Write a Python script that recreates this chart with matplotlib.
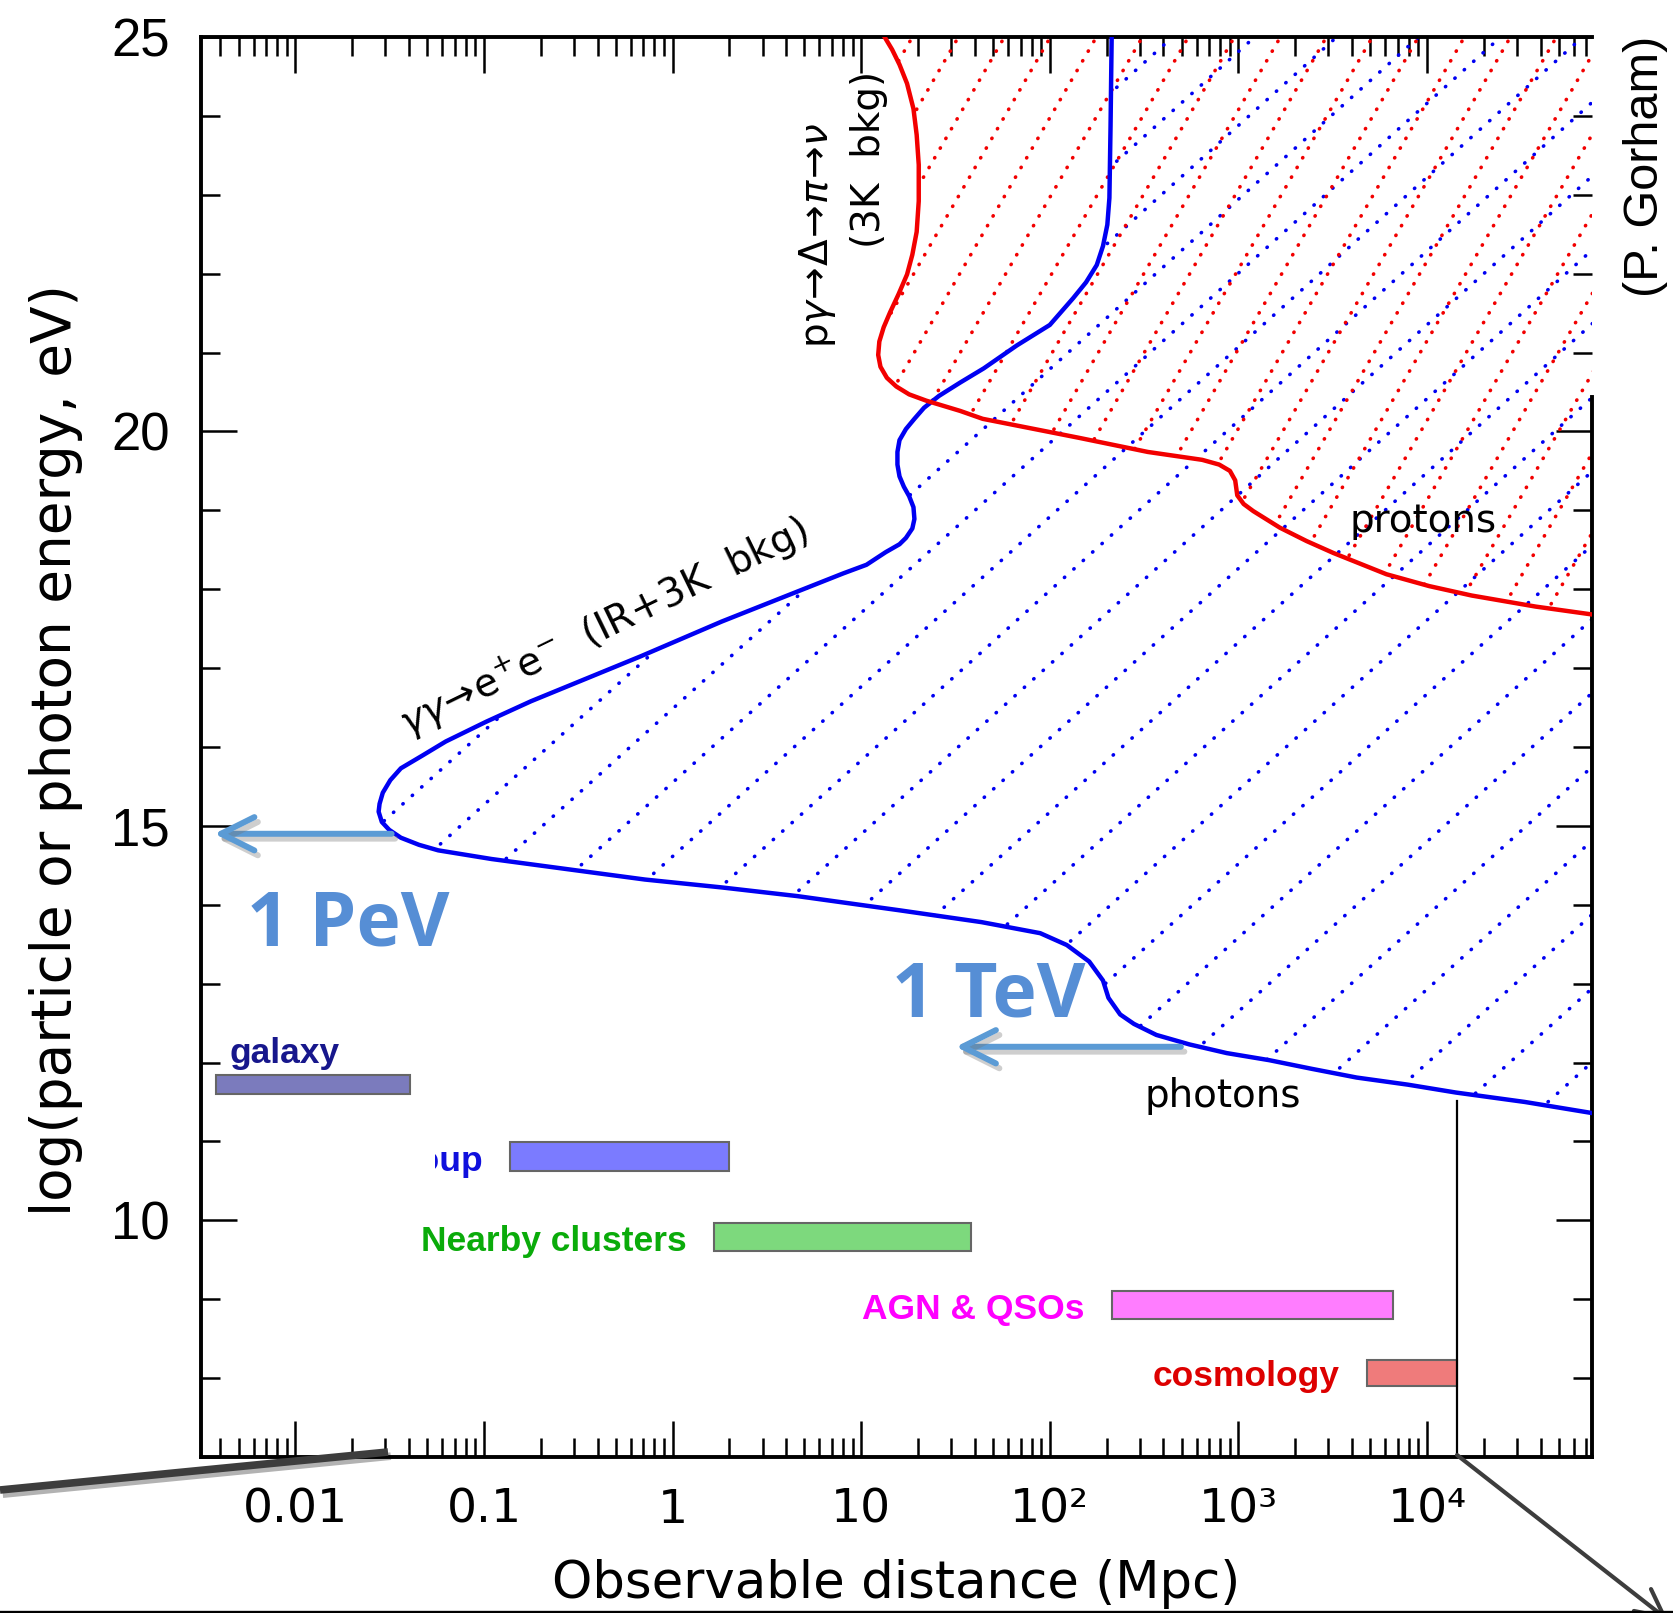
import numpy as np
import matplotlib
matplotlib.use("Agg")
import matplotlib.pyplot as plt
import matplotlib.patheffects as pe
from matplotlib.collections import LineCollection
from matplotlib.lines import Line2D
from matplotlib.patches import Polygon, FancyArrowPatch
from matplotlib.transforms import Bbox, TransformedBbox
from matplotlib.ticker import (FixedLocator, FixedFormatter, LogLocator,
                               NullFormatter, MultipleLocator)

plt.rcParams["font.family"] = ["DejaVu Sans"]
plt.rcParams["mathtext.fontset"] = "dejavusans"

# ---------------------------------------------------------------------------
# Energy-loss horizons: log10(E / eV) against log10(distance / Mpc)
# ---------------------------------------------------------------------------
photon_log_energy = [25.0, 23.86, 22.96, 22.62, 22.35, 22.11, 21.89, 21.69,
                     21.35, 21.09, 20.80, 20.62, 20.45, 20.30, 20.16, 20.03,
                     19.89, 19.74, 19.58, 19.43, 19.30, 19.18, 19.04, 18.89,
                     18.77, 18.65, 18.57, 18.47, 18.31, 18.20, 17.97, 17.59,
                     17.15, 16.58, 16.32, 16.07, 15.89, 15.73, 15.58, 15.42,
                     15.28, 15.18, 15.05, 14.95, 14.85, 14.76, 14.69, 14.58,
                     14.45, 14.32, 14.22, 14.11, 13.93, 13.78, 13.64, 13.49,
                     13.28, 13.04, 12.82, 12.61, 12.49, 12.35, 12.23, 12.12,
                     12.03, 11.92, 11.81, 11.72, 11.62, 11.50, 11.36]
photon_log_dist = [2.328, 2.322, 2.316, 2.305, 2.282, 2.249, 2.192, 2.124,
                   2.000, 1.825, 1.650, 1.525, 1.412, 1.333, 1.282, 1.237,
                   1.203, 1.192, 1.192, 1.203, 1.226, 1.254, 1.277, 1.282,
                   1.271, 1.237, 1.203, 1.130, 1.028, 0.904, 0.661, 0.260,
                   -0.169, -0.751, -0.989, -1.203, -1.328, -1.441, -1.497,
                   -1.537, -1.554, -1.559, -1.542, -1.503, -1.441, -1.345,
                   -1.243, -0.960, -0.554, -0.147, 0.260, 0.661, 1.203, 1.638,
                   1.949, 2.090, 2.209, 2.282, 2.311, 2.373, 2.446, 2.565,
                   2.740, 2.938, 3.164, 3.390, 3.627, 3.898, 4.153, 4.520,
                   4.875]

proton_log_energy = [25.0, 24.84, 24.65, 24.41, 24.09, 23.76, 23.38, 22.92,
                     22.53, 22.24, 21.99, 21.74, 21.51, 21.32, 21.14, 20.97,
                     20.82, 20.68, 20.57, 20.47, 20.39, 20.26, 20.16, 19.92,
                     19.74, 19.64, 19.58, 19.50, 19.38, 19.19, 19.08, 18.99,
                     18.78, 18.61, 18.46, 18.19, 18.04, 17.92, 17.78, 17.68]
proton_log_dist = [1.124, 1.164, 1.203, 1.243, 1.277, 1.294, 1.305, 1.305,
                   1.294, 1.271, 1.243, 1.198, 1.153, 1.119, 1.096, 1.090,
                   1.102, 1.136, 1.186, 1.254, 1.345, 1.525, 1.644, 2.153,
                   2.520, 2.808, 2.898, 2.955, 2.983, 2.994, 3.028, 3.079,
                   3.220, 3.362, 3.503, 3.785, 4.011, 4.237, 4.576, 4.875]

# ---------------------------------------------------------------------------
# Source classes and the distance ranges (Mpc) they occupy
# ---------------------------------------------------------------------------
source_names = ["galaxy", "Local Group", "Nearby clusters", "AGN & QSOs",
                "cosmology"]
source_dist_lo = [0.0038, 0.137, 1.65, 214.0, 4790.0]
source_dist_hi = [0.0404, 1.99, 38.2, 6600.0, 14350.0]
source_energy_lo = [11.60, 10.62, 9.61, 8.75, 7.90]
source_energy_hi = [11.84, 10.99, 9.96, 9.10, 8.23]

horizon_mpc = 14350.0
horizon_top_energy = 11.51

# Reference energies marked with arrows (log10 eV, distances in Mpc)
pev_energy, pev_from, pev_to = 14.9, 10 ** -1.49, 10 ** -2.43
tev_energy, tev_from, tev_to = 12.2, 10 ** 2.695, 10 ** 1.502

x_ticks = [0.01, 0.1, 1, 10, 100, 1000, 10000]
x_tick_labels = ["0.01", "0.1", "1", "10", "10²", "10³", "10⁴"]
y_major_ticks = [10, 15, 20, 25]

# ---------------------------------------------------------------------------
# Styles
# ---------------------------------------------------------------------------
BLUE = "#0000f2"
RED = "#f20000"
ARROW_BLUE = "#5b9bd5"
NOTE_BLUE = "#568ed5"
bar_faces = ["#7b7bbd", "#7b7bff", "#7dd97d", "#ff7dff", "#ef7b7b"]
label_colors = ["#17178c", "#1010dd", "#0aab0a", "#ff00ff", "#dd0000"]

W_PX, H_PX, DPI = 1673, 1613, 100
fig = plt.figure(figsize=(W_PX / DPI, H_PX / DPI), dpi=DPI)
ax_left, ax_right, ax_top, ax_bottom = 200.6, 1592.0, 37.0, 1457.0
ax = fig.add_axes([ax_left / W_PX, 1 - ax_bottom / H_PX,
                   (ax_right - ax_left) / W_PX, (ax_bottom - ax_top) / H_PX])
ax.set_xscale("log")
ax.set_xlim(10 ** -2.503, 10 ** 4.875)
ax.set_ylim(7, 25)

ax_w_px = ax_right - ax_left
ax_h_px = ax_bottom - ax_top

photon_dist = 10 ** np.array(photon_log_dist)
proton_dist = 10 ** np.array(proton_log_dist)


def region_patch(dist, energy):
    far = ax.get_xlim()[1] * 5
    xs = np.r_[dist, far, far, dist[0]]
    ys = np.r_[energy, energy[-1], 27.0, 27.0]
    patch = Polygon(np.column_stack([xs, ys]), closed=True,
                    transform=ax.transData, facecolor="none",
                    edgecolor="none", lw=0)
    ax.add_patch(patch)
    return patch


def hatch_segments(angle_deg, spacing_px, phase_px):
    run = ax_h_px / np.tan(np.radians(angle_deg))
    kmin = int(np.floor((-run - phase_px) / spacing_px)) - 1
    kmax = int(np.ceil((ax_w_px - phase_px) / spacing_px)) + 1
    starts = phase_px + spacing_px * np.arange(kmin, kmax + 1)
    return [[(x0 / ax_w_px, 0.0), ((x0 + run) / ax_w_px, 1.0)]
            for x0 in starts]


def add_hatch(region, angle_deg, spacing_px, phase_px, color, gap):
    lc = LineCollection(hatch_segments(angle_deg, spacing_px, phase_px),
                        transform=ax.transAxes, colors=color, linewidths=2.6,
                        linestyles=[(0, (0.1, gap))], capstyle="round",
                        zorder=2)
    lc.set_clip_path(region)
    lc.set_clip_box(ax.bbox)
    ax.add_collection(lc, autolim=False)


# dotted hatching of the regions beyond each horizon
blue_region = region_patch(photon_dist, photon_log_energy)
red_region = region_patch(proton_dist, proton_log_energy)
add_hatch(blue_region, 42, 82, 51, BLUE, 3.4)
add_hatch(red_region, 60, 46, 30, RED, 3.0)

# horizon curves
ax.plot(photon_dist, photon_log_energy, color=BLUE, lw=3.2,
        solid_joinstyle="round", zorder=4)
ax.plot(proton_dist, proton_log_energy, color=RED, lw=3.2,
        solid_joinstyle="round", zorder=4)

# source-class bars and their labels
widths = np.array(source_dist_hi) - np.array(source_dist_lo)
heights = np.array(source_energy_hi) - np.array(source_energy_lo)
centers = (np.array(source_energy_hi) + np.array(source_energy_lo)) / 2
ax.barh(centers, widths, height=heights, left=source_dist_lo,
        color=bar_faces, edgecolor="#666666", linewidth=1.5, zorder=3)

label_font = dict(family=["Liberation Sans", "DejaVu Sans"],
                  fontweight="bold", fontsize=25.5)
for i, name in enumerate(source_names):
    if i == 0:
        ax.text(source_dist_lo[i] * 1.17, source_energy_hi[i] + 0.15, name,
                ha="left", va="baseline", color=label_colors[i], zorder=5,
                **label_font)
        continue
    t = ax.text(source_dist_lo[i] / 10 ** 0.145, source_energy_lo[i], name,
                ha="right", va="baseline", color=label_colors[i], zorder=5,
                **label_font)
    if name == "Local Group":
        t.set_clip_box(TransformedBbox(Bbox([[0.055, 7.0], [1e6, 25.0]]),
                                       ax.transData))
        t.set_clip_on(True)

# horizon of the observable universe
ax.plot([horizon_mpc, horizon_mpc], [7, horizon_top_energy],
        color="black", lw=1.6, zorder=3)

# process annotations
note_font = dict(fontsize=28, color="black", zorder=6)
ax.text(10 ** -1.404, 16.13,
        r"$\gamma\gamma\!\rightarrow\!\mathrm{e}^{+}\mathrm{e}^{-}$"
        "  (IR+3K  bkg)",
        rotation=26, rotation_mode="anchor", ha="left", va="baseline",
        **note_font)
ax.text(10 ** 0.823, 21.06,
        r"p$\gamma\!\rightarrow\!\Delta\!\rightarrow\!\pi\!\rightarrow\!\nu$",
        rotation=90, rotation_mode="anchor", ha="left", va="baseline",
        **note_font)
ax.text(10 ** 1.099, 22.32, "(3K  bkg)", rotation=90, rotation_mode="anchor",
        ha="left", va="baseline", **note_font)
ax.text(10 ** 3.591, 18.72, "protons", ha="left", va="baseline", **note_font)
ax.text(10 ** 2.504, 11.44, "photons", ha="left", va="baseline", **note_font)

# 1 PeV / 1 TeV markers
shadow = [pe.SimpleLineShadow(offset=(2.5, -3.5), shadow_color="0.45",
                              alpha=0.35), pe.Normal()]
arrow_kw = dict(arrowstyle="->,head_length=1.2,head_width=0.6",
                color=ARROW_BLUE, lw=4.3, mutation_scale=20,
                capstyle="round", joinstyle="round",
                shrinkA=0, shrinkB=0, path_effects=shadow)
ax.annotate("", xy=(pev_to, pev_energy), xytext=(pev_from, pev_energy),
            arrowprops=arrow_kw, zorder=7)
ax.annotate("", xy=(tev_to, tev_energy), xytext=(tev_from, tev_energy),
            arrowprops=arrow_kw, zorder=7)
big_font = dict(family=["Open Sans", "DejaVu Sans"], fontweight="bold",
                fontsize=54, color=NOTE_BLUE, ha="left", va="baseline",
                zorder=7)
ax.text(10 ** -2.258, 13.48, "1 PeV", **big_font)
ax.text(10 ** 1.162, 12.58, "1 TeV", **big_font)

# axes, ticks and frame
ax.xaxis.set_major_locator(FixedLocator(x_ticks))
ax.xaxis.set_major_formatter(FixedFormatter(x_tick_labels))
ax.xaxis.set_minor_locator(LogLocator(base=10, subs=np.arange(2, 10),
                                      numticks=100))
ax.xaxis.set_minor_formatter(NullFormatter())
ax.yaxis.set_major_locator(FixedLocator(y_major_ticks))
ax.yaxis.set_minor_locator(MultipleLocator(1))
ax.tick_params(which="both", direction="in", top=True, right=True,
               width=1.8, color="black")
ax.tick_params(which="major", length=26)
ax.tick_params(which="minor", length=13.5)
ax.tick_params(axis="x", which="major", labelsize=34, pad=22)
ax.tick_params(axis="y", which="major", labelsize=38, pad=22)
for lab in ax.get_yticklabels():
    lab.set_fontfamily(["Liberation Sans", "DejaVu Sans"])
for sp in ax.spines.values():
    sp.set_linewidth(2.8)
ax.spines["right"].set_bounds(7, 20.44)

fig.text(56 / W_PX, 1 - 750 / H_PX, "log(particle or photon energy, eV)",
         rotation=90, ha="center", va="center", fontsize=39.5)
fig.text(896 / W_PX, 1 - 1598 / H_PX, "Observable distance (Mpc)",
         ha="center", va="baseline", fontsize=37)
fig.text(1645 / W_PX, 1 - 166 / H_PX, "(P. Gorham)", rotation=90,
         ha="center", va="center", fontsize=35,
         family=["Liberation Sans", "DejaVu Sans"])

# call-out strokes linking the distance axis to the rest of the slide
fig.add_artist(Line2D([0.0, 388 / W_PX], [1 - 1490 / H_PX, 1 - 1452 / H_PX],
                      transform=fig.transFigure, color="#3d3d3d", lw=5.5,
                      solid_capstyle="butt",
                      path_effects=[pe.SimpleLineShadow(offset=(2, -3),
                                                        alpha=0.3),
                                    pe.Normal()]))
fig.add_artist(FancyArrowPatch(posA=(1457 / W_PX, 1 - 1455 / H_PX),
                               posB=(1668 / W_PX, 1 - 1620 / H_PX),
                               transform=fig.transFigure,
                               arrowstyle="->,head_length=1.0,head_width=0.5",
                               mutation_scale=20, color="#3d3d3d", lw=3.0,
                               shrinkA=0, shrinkB=0))
fig.add_artist(Line2D([0.0, 1.0], [1.5 / H_PX, 1.5 / H_PX],
                      transform=fig.transFigure, color="black", lw=2.4))

fig.savefig("out.png", dpi=DPI)
